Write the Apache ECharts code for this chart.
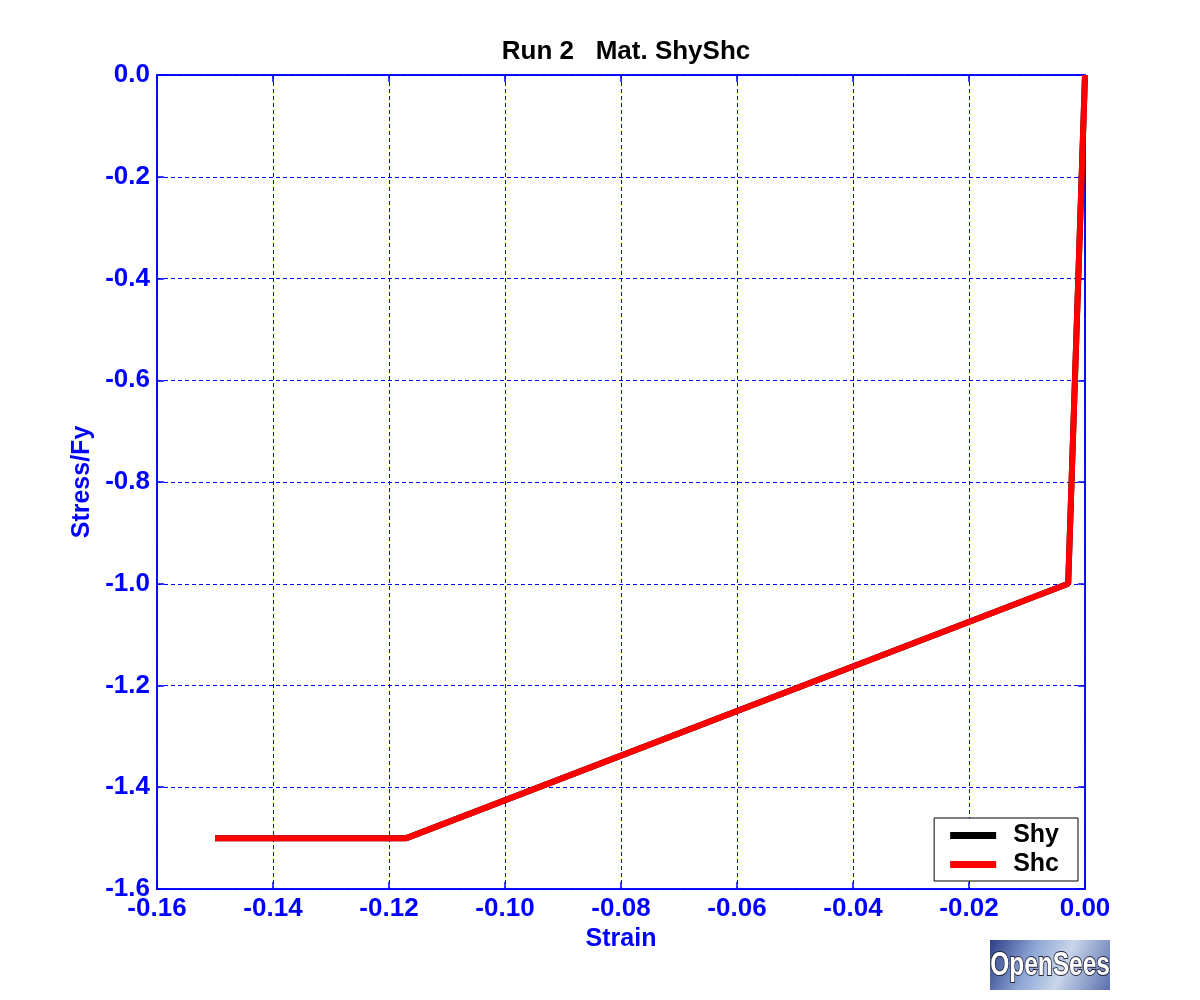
<!DOCTYPE html>
<html>
<head>
<meta charset="utf-8">
<script src="https://cdn.jsdelivr.net/npm/echarts@6/dist/echarts.min.js"></script>
<style>html,body{margin:0;padding:0;background:#fff}#c{width:1200px;height:1000px}</style>
</head>
<body>
<div id="c"></div>
<script>
// Data
const strainShy = [0, -0.0029, -0.117, -0.150];
const stressShy = [0, -1.0, -1.5, -1.5];
const strainShc = [0, -0.0029, -0.117, -0.150];
const stressShc = [0, -1.0, -1.5, -1.5];
const seriesNames = ['Shy', 'Shc'];
const xTicks = { min: -0.16, max: 0, interval: 0.02 };
const yTicks = { min: -1.6, max: 0, interval: 0.2 };

const BLUE = '#0000ff';
const FONT = 'Liberation Sans, Arial, sans-serif';

function pairs(xs, ys) { return xs.map((x, i) => [x, ys[i]]); }
function fmt(v, d) { if (Math.abs(v) < 1e-9) v = 0; return v.toFixed(d); }
function gridLine() { return { show: true, lineStyle: { color: '#0000ff', type: [4, 3], width: 1, opacity: 1 } }; }
function axisLine() { return { show: true, onZero: false, lineStyle: { color: '#0000ff', width: 1.5 } }; }
function axisTick() { return { show: true, inside: true, length: 7, lineStyle: { color: '#0000ff', width: 1.5 } }; }

const chart = echarts.init(document.getElementById('c'), null, { renderer: 'canvas' });

chart.setOption({
  animation: false,
  backgroundColor: '#fff',
  title: {
    text: 'Run 2   Mat. ShyShc',
    left: 621, textAlign: 'center', top: 34,
    textStyle: { color: '#000', fontSize: 26, fontWeight: 'bold', fontFamily: FONT }
  },
  grid: { left: 157, right: 115, top: 75, bottom: 111, show: true, borderColor: BLUE, borderWidth: 1.5, backgroundColor: 'transparent' },
  legend: {
    data: seriesNames,
    orient: 'vertical',
    right: 122, bottom: 119,
    backgroundColor: '#fff', borderColor: '#000', borderWidth: 1, borderRadius: 0,
    padding: [5, 19, 4, 16],
    itemGap: 4, itemWidth: 46, itemHeight: 7, icon: 'rect',
    textStyle: { color: '#000', fontSize: 25, fontWeight: 'bold', fontFamily: FONT, padding: [0, 0, 0, 12] }
  },
  xAxis: [{
    type: 'value', min: xTicks.min, max: xTicks.max, interval: xTicks.interval,
    name: 'Strain', nameLocation: 'middle', nameGap: 33,
    nameTextStyle: { color: BLUE, fontSize: 25, fontWeight: 'bold', fontFamily: FONT },
    axisLine: axisLine(), axisTick: axisTick(),
    axisLabel: { color: BLUE, fontSize: 26, fontWeight: 'bold', fontFamily: FONT, margin: 7, formatter: v => fmt(v, 2) },
    splitLine: gridLine()
  }, {
    type: 'value', position: 'top', min: xTicks.min, max: xTicks.max, interval: xTicks.interval,
    axisLine: axisLine(), axisTick: axisTick(),
    axisLabel: { show: false }, splitLine: { show: false }
  }],
  yAxis: [{
    type: 'value', min: yTicks.min, max: yTicks.max, interval: yTicks.interval,
    name: 'Stress/Fy', nameLocation: 'middle', nameGap: 45, nameRotate: 90,
    nameTextStyle: { color: BLUE, fontSize: 25, fontWeight: 'bold', fontFamily: FONT },
    axisLine: axisLine(), axisTick: axisTick(),
    axisLabel: { color: BLUE, fontSize: 26, fontWeight: 'bold', fontFamily: FONT, margin: 7, formatter: v => fmt(v, 1) },
    splitLine: gridLine()
  }, {
    type: 'value', position: 'right', min: yTicks.min, max: yTicks.max, interval: yTicks.interval,
    axisLine: axisLine(), axisTick: axisTick(),
    axisLabel: { show: false }, splitLine: { show: false }
  }],
  series: [{
    name: 'Shy', type: 'line', data: pairs(strainShy, stressShy),
    showSymbol: false, symbol: 'none', clip: true,
    lineStyle: { color: '#000', width: 6 }, itemStyle: { color: '#000' }
  }, {
    name: 'Shc', type: 'line', data: pairs(strainShc, stressShc),
    showSymbol: false, symbol: 'none', clip: true,
    lineStyle: { color: '#ff0000', width: 6 }, itemStyle: { color: '#ff0000' }
  }],
  graphic: [{
    type: 'rect', x: 990, y: 940, shape: { x: 0, y: 0, width: 120, height: 50 },
    style: {
      fill: new echarts.graphic.LinearGradient(0, 0, 1, 1, [
        { offset: 0, color: '#2d3f8a' },
        { offset: 0.35, color: '#8fa8d6' },
        { offset: 0.6, color: '#c9d6ea' },
        { offset: 1, color: '#5a6fae' }
      ])
    }
  }, {
    type: 'text', x: 1050, y: 966, scaleX: 0.72,
    style: {
      text: 'OpenSees', align: 'center', verticalAlign: 'middle',
      fill: '#fff', stroke: '#22223a', lineWidth: 2,
      font: 'bold 34px "Liberation Sans", Arial, sans-serif'
    }
  }]
});
</script>
</body>
</html>
